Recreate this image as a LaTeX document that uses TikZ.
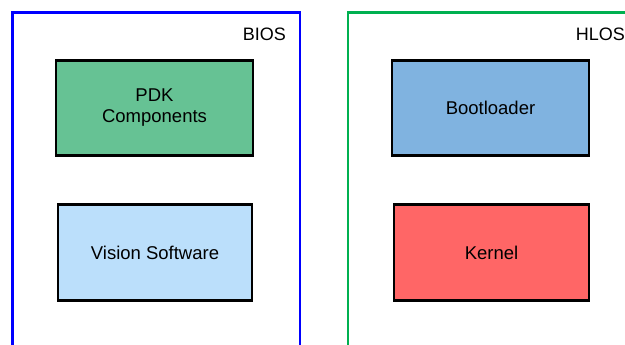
\documentclass[tikz,border=0pt]{standalone}
\usepackage{fontspec}
\setmainfont{Liberation Sans}
\definecolor{biosblue}{RGB}{0,0,255}
\definecolor{hlosgreen}{RGB}{0,176,80}
\definecolor{pdkfill}{RGB}{102,194,148}
\definecolor{visionfill}{RGB}{187,223,251}
\definecolor{bootfill}{RGB}{128,179,224}
\definecolor{kernelfill}{RGB}{255,102,102}
\tikzset{
  comp/.style={draw=black, line width=2.4pt, minimum width=195pt, minimum height=95pt,
    inner sep=0pt, align=center, font=\fontsize{18.5pt}{21pt}\selectfont},
  frame/.style={line width=2.2pt},
  framelabel/.style={font=\fontsize{18pt}{21pt}\selectfont, anchor=base east, inner sep=0pt}
}
\begin{document}
\begin{tikzpicture}[x=1pt,y=1pt]
  \useasboundingbox (0,0) rectangle (625,345);
  % open-bottomed frames for the two software layers
  \draw[frame, biosblue] (12.5,-10) -- (12.5,332.5) -- (300,332.5) -- (300,-10);
  \draw[frame, hlosgreen] (348,-10) -- (348,332.5) -- (640,332.5);
  \node[framelabel] (bios) at (286,304) {BIOS};
  \node[framelabel] (hlos) at (625,304) {HLOS};
  % components
  \node[comp, fill=pdkfill, minimum width=197pt] (pdk) at (154.5,237) {PDK\\Components};
  \node[comp, fill=visionfill, minimum width=194pt, minimum height=96pt] (vision) at (155,92.5) {Vision Software};
  \node[comp, fill=bootfill, minimum width=197pt] (boot) at (490.5,237) {Bootloader};
  \node[comp, fill=kernelfill, minimum height=96pt] (kernel) at (491.5,92.5) {Kernel};
\end{tikzpicture}
\end{document}
